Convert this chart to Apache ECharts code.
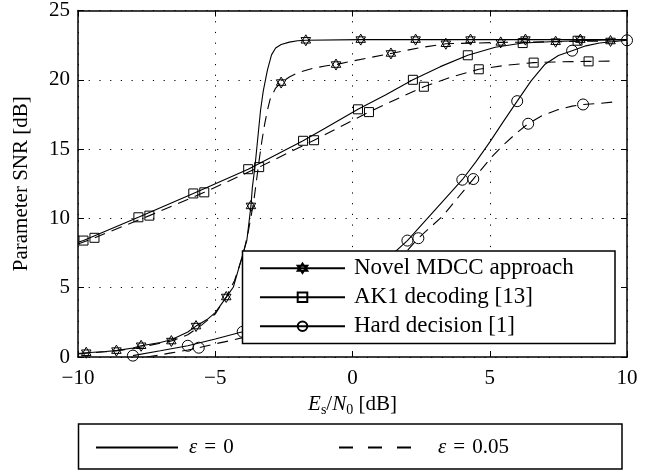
<!DOCTYPE html>
<html>
<head>
<meta charset="utf-8">
<script src="https://cdn.jsdelivr.net/npm/echarts@6/dist/echarts.min.js"></script>
<style>
  html, body { margin: 0; padding: 0; background: #fff; }
  #container { width: 665px; height: 474px; }
</style>
</head>
<body>
<div id="container"></div>
<script>
// axis ticks
const xTicks = [-10, -5, 0, 5, 10];
const yTicks = [0, 5, 10, 15, 20, 25];

// Novel MDCC approach, eps = 0
const mdccX0 = [-10, -9.7, -9, -8.6, -8, -7.7, -7, -6.6, -6, -5.7, -5.3, -5, -4.6, -4.34, -4.1, -3.85, -3.7, -3.65, -3.55, -3.45, -3.35, -3.25, -3.1, -2.95, -2.8, -2.6, -2.3, -2.0, -1.7, 0.3, 2.3, 4.3, 6.3, 8.3, 10];
const mdccY0 = [0.25, 0.31, 0.4, 0.46, 0.65, 0.81, 1.05, 1.25, 1.8, 2.23, 2.7, 3.2, 4.3, 5.05, 6.7, 8.4, 10.9, 12.2, 13.8, 15.8, 17.8, 19.2, 20.7, 21.8, 22.3, 22.55, 22.72, 22.82, 22.85, 22.9, 22.9, 22.9, 22.9, 22.9, 22.9];
const mdccMarks0 = [-9.7, -7.7, -5.7, -3.7, -1.7, 0.3, 2.3, 4.3, 6.3, 8.3];
// Novel MDCC approach, eps = 0.05
const mdccX5 = [-10, -9, -8.6, -8, -7, -6.6, -6, -5.5, -5, -4.6, -4.3, -4.0, -3.8, -3.6, -3.5, -3.4, -3.3, -3.2, -3.1, -3.0, -2.8, -2.6, -2.3, -2.0, -1.5, -1.0, -0.6, 0, 0.5, 1.4, 2.4, 3.4, 4.4, 5.4, 6.4, 7.4, 8.4, 9.4];
const mdccY5 = [0.22, 0.38, 0.46, 0.6, 1.0, 1.15, 1.6, 2.3, 3.1, 4.33, 5.5, 7.3, 9.0, 11.2, 12.7, 14.2, 15.6, 16.8, 17.8, 18.6, 19.4, 19.8, 20.2, 20.5, 20.8, 21.0, 21.1, 21.35, 21.55, 21.9, 22.3, 22.6, 22.65, 22.7, 22.72, 22.75, 22.78, 22.8];
const mdccMarks5 = [-8.6, -6.6, -4.6, -2.6, -0.6, 1.4, 3.4, 5.4, 7.4, 9.4];

// AK1 decoding [13]
const ak1X0 = [-10, -9.8, -7.8, -5.8, -3.8, -1.8, -1, 0.2, 1.2, 2.2, 3.2, 4.2, 5.2, 6.2, 7.2, 8.2, 9.2, 10];
const ak1Y0 = [8.28, 8.4, 10.08, 11.8, 13.55, 15.6, 16.5, 17.87, 18.9, 20.0, 20.95, 21.77, 22.35, 22.65, 22.75, 22.82, 22.87, 22.9];
const ak1Marks0 = [-9.8, -7.8, -5.8, -3.8, -1.8, 0.2, 2.2, 4.2, 6.2, 8.2];
const ak1X5 = [-10, -9.4, -7.4, -5.4, -3.4, -1.4, 0.6, 1.6, 2.6, 3.6, 4.6, 5.6, 6.6, 7.6, 8.6, 9.5];
const ak1Y5 = [8.15, 8.6, 10.2, 11.88, 13.7, 15.64, 17.67, 18.6, 19.5, 20.2, 20.76, 21.05, 21.24, 21.3, 21.33, 21.35];
const ak1Marks5 = [-9.4, -7.4, -5.4, -3.4, -1.4, 0.6, 2.6, 4.6, 6.6, 8.6];

// Hard decision [1]
const hardX0 = [-8.0, -7, -6, -5, -4, -3, -2, -1, 0, 1, 2, 3, 4, 4.5, 5, 5.5, 6, 6.5, 7, 7.5, 8, 8.5, 9, 10];
const hardY0 = [0.1, 0.45, 0.81, 1.3, 1.82, 2.4, 3.1, 4.0, 5.2, 6.6, 8.4, 10.6, 12.79, 14.1, 15.5, 17.0, 18.46, 19.9, 21.1, 21.75, 22.1, 22.45, 22.65, 22.85];
const hardMarks0 = [-8, -6, -4, -2, 0, 2, 4, 6, 8, 10];
const hardX5 = [-7.5, -7, -6.6, -6, -5.6, -5, -4.4, -4, -3.6, -3, -2, -1.6, -1, 0, 0.4, 1, 1.6, 2.4, 3.3, 4.4, 5.1, 5.55, 6.0, 6.4, 6.9, 7.5, 8.0, 8.4, 9.0, 9.5];
const hardY5 = [0.0, 0.15, 0.3, 0.5, 0.67, 0.95, 1.2, 1.4, 1.6, 1.95, 2.6, 2.9, 3.4, 4.4, 4.9, 5.7, 6.8, 8.57, 10.2, 12.84, 14.5, 15.4, 16.2, 16.83, 17.4, 17.85, 18.1, 18.22, 18.3, 18.4];
const hardMarks5 = [-5.6, -3.6, -1.6, 0.4, 2.4, 4.4, 6.4, 8.4];

const FONT = 'Liberation Serif';
const hexagram = 'path://M0,-1 L0.866,0.5 L-0.866,0.5 Z M0,1 L0.866,-0.5 L-0.866,-0.5 Z';
const dash = [11, 7];

// points that are not markers get no symbol
function makeData(xs, ys, marks) {
  return xs.map((x, i) => marks.includes(x) ? [x, ys[i]] : { value: [x, ys[i]], symbol: 'none' });
}

function curve(name, xs, ys, marks, symbol, size, dashed) {
  return {
    name: name,
    type: 'line',
    data: makeData(xs, ys, marks),
    symbol: symbol,
    symbolSize: size,
    symbolKeepAspect: true,
    showSymbol: true,
    showAllSymbol: true,
    lineStyle: { color: '#000', width: 1.1, type: dashed ? dash : 'solid' },
    itemStyle: { color: 'rgba(255,255,255,0)', borderColor: '#000', borderWidth: 1 },
    emphasis: { disabled: true }
  };
}

let chart = echarts.init(document.querySelector('#container'));

const tickLabel = v => String(v).replace('-', '\u2212');
const epsRich = { e: { fontFamily: 'Liberation Serif', fontSize: 21, fontStyle: 'italic', color: '#000' } };
const frameLine = { show: true, onZero: false, lineStyle: { color: '#000', width: 1.5 } };
const inTick = { show: true, inside: true, length: 6, lineStyle: { color: '#000' } };

chart.setOption({
  animation: false,
  grid: { left: 78, right: 38, top: 8.5, bottom: 117 },
  xAxis: [{
    type: 'value', min: -10, max: 10, interval: 5,
    axisLine: frameLine,
    axisTick: inTick,
    axisLabel: { color: '#000', fontFamily: FONT, fontSize: 21, margin: 11, formatter: tickLabel },
    splitLine: { show: true, lineStyle: { color: '#000', width: 1, type: [1.2, 9.5] } },
    name: '{i|E}{s|s}/{i|N}{s|0} [dB]',
    nameLocation: 'middle',
    nameGap: 21,
    nameTextStyle: {
      color: '#000', fontFamily: FONT, fontSize: 21, verticalAlign: 'top',
      rich: {
        i: { fontFamily: FONT, fontSize: 21, fontStyle: 'italic', color: '#000', verticalAlign: 'top', lineHeight: 22 },
        s: { fontFamily: FONT, fontSize: 14, color: '#000', verticalAlign: 'top', lineHeight: 16, padding: [9, 0, 0, 0] }
      }
    }
  }, {
    type: 'value', min: -10, max: 10, interval: 5, position: 'top',
    axisLine: frameLine,
    axisTick: inTick,
    axisLabel: { show: false },
    splitLine: { show: false }
  }],
  yAxis: [{
    type: 'value', min: 0, max: 25, interval: 5,
    axisLine: frameLine,
    axisTick: inTick,
    axisLabel: { color: '#000', fontFamily: FONT, fontSize: 21, margin: 8 },
    splitLine: { show: true, lineStyle: { color: '#000', width: 1, type: [1.2, 9.5] } },
    name: 'Parameter SNR [dB]',
    nameLocation: 'middle',
    nameGap: 46,
    nameTextStyle: { color: '#000', fontFamily: FONT, fontSize: 21 }
  }, {
    type: 'value', min: 0, max: 25, interval: 5, position: 'right',
    axisLine: frameLine,
    axisTick: inTick,
    axisLabel: { show: false },
    splitLine: { show: false }
  }],
  legend: [{
    data: ['Novel MDCC approach', 'AK1 decoding [13]', 'Hard decision [1]'],
    orient: 'vertical',
    left: 242.5, top: 251,
    padding: [2.75, 11, 2.75, 16.5], itemGap: 0,
    itemWidth: 85, itemHeight: 12,
    backgroundColor: '#fff', borderColor: '#000', borderWidth: 1.5, borderRadius: 0,
    selectedMode: false,
    textStyle: { color: '#000', fontFamily: FONT, fontSize: 23, lineHeight: 29, width: 250, overflow: 'none', padding: [0, 0, 0, 4] }
  }, {
    data: ['eps0'],
    left: 78.5, top: 424,
    padding: [11.5, 373, 9.5, 16.5],
    itemWidth: 82, itemHeight: 12,
    backgroundColor: '#fff', borderColor: '#000', borderWidth: 1.5, borderRadius: 0,
    selectedMode: false,
    itemStyle: { opacity: 0 },
    formatter: () => '{e|\u03B5}\u2004=\u20040',
    textStyle: { color: '#000', fontFamily: FONT, fontSize: 21, lineHeight: 24, width: 60, overflow: 'none', padding: [0, 0, 0, 6], rich: epsRich }
  }, {
    data: ['eps5'],
    left: 338, top: 435.5,
    z: 6,
    padding: 0,
    itemWidth: 72, itemHeight: 12,
    selectedMode: false,
    itemStyle: { opacity: 0 },
    formatter: () => '{e|\u03B5}\u2004=\u20040.05',
    textStyle: { color: '#000', fontFamily: FONT, fontSize: 21, lineHeight: 24, padding: [0, 0, 0, 22], rich: epsRich }
  }],
  series: [
    curve('Novel MDCC approach', mdccX0, mdccY0, mdccMarks0, hexagram, 11, false),
    curve('mdcc5', mdccX5, mdccY5, mdccMarks5, hexagram, 11, true),
    curve('AK1 decoding [13]', ak1X0, ak1Y0, ak1Marks0, 'rect', 9, false),
    curve('ak15', ak1X5, ak1Y5, ak1Marks5, 'rect', 9, true),
    curve('Hard decision [1]', hardX0, hardY0, hardMarks0, 'circle', 11, false),
    curve('hard5', hardX5, hardY5, hardMarks5, 'circle', 11, true),
    { name: 'eps0', type: 'line', data: [], symbol: 'none', lineStyle: { color: '#000', width: 1.1, type: 'solid' }, itemStyle: { color: '#000' } },
    { name: 'eps5', type: 'line', data: [], symbol: 'none', lineStyle: { color: '#000', width: 1.1, type: [14, 15] }, itemStyle: { color: '#000' } }
  ]
});
</script>
</body>
</html>
